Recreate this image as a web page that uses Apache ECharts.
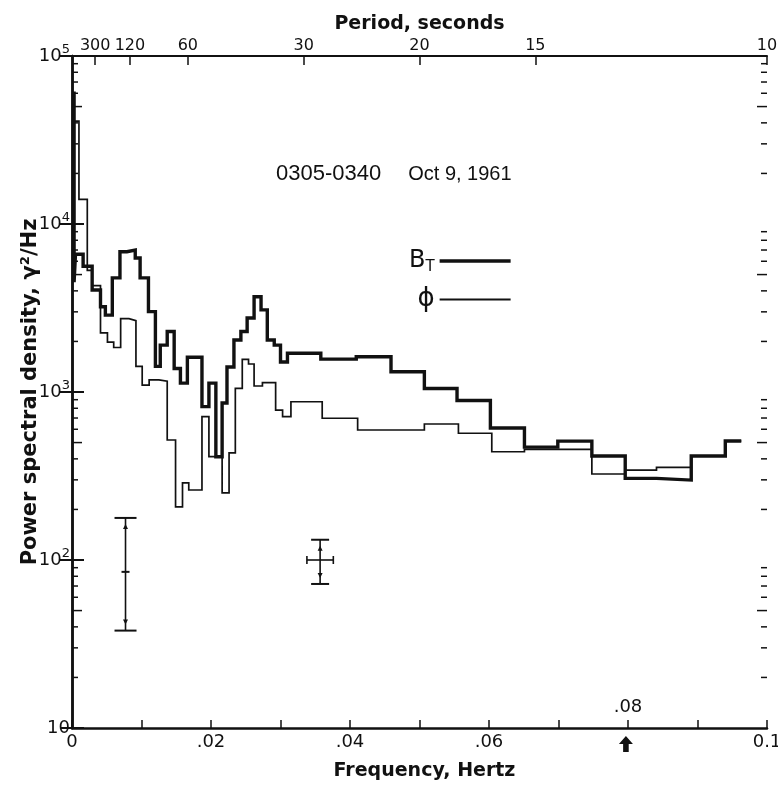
<!DOCTYPE html>
<html>
<head>
<meta charset="utf-8">
<script src="https://cdn.jsdelivr.net/npm/echarts@6/dist/echarts.min.js"></script>
<style>
  html, body { margin: 0; padding: 0; background: #fff; }
  #chart { width: 778px; height: 785px; }
</style>
</head>
<body>
<div id="chart"></div>
<script>
// Power spectra, 0305-0340 UT, Oct 9 1961.
// Each series: frequency (Hz) where a step starts, and the density held until the next step.
const btFreq = [0, 0.0003, 0.0005, 0.0016, 0.0029, 0.0041, 0.0048, 0.0058, 0.0069, 0.0079, 0.0091,
  0.0098, 0.0110, 0.0120, 0.0127, 0.0137, 0.0147, 0.0156, 0.0166, 0.0187, 0.0197, 0.0207, 0.0216,
  0.0223, 0.0233, 0.0243, 0.0252, 0.0262, 0.0272, 0.0281, 0.0291, 0.0300, 0.0310, 0.0358, 0.0409,
  0.0459, 0.0507, 0.0554, 0.0602, 0.0651, 0.0699, 0.0748, 0.0796, 0.0841, 0.0891, 0.0940];
const btVal = [60000, 4500, 6600, 5600, 4050, 3220, 2870, 4780, 6840, 7000, 6280,
  4780, 3010, 1420, 1900, 2290, 1380, 1130, 1610, 818, 1130, 412, 860,
  1410, 2040, 2290, 2760, 3690, 3080, 2040, 1900, 1510, 1700, 1570, 1620,
  1320, 1050, 890, 610, 470, 510, 416, 306, 299, 416, 511];
const btEnd = 0.0963;

const phFreq = [0, 0.0010, 0.0022, 0.0029, 0.0041, 0.0051, 0.0060, 0.0070, 0.0082, 0.0092, 0.0101,
  0.0111, 0.0125, 0.0137, 0.0149, 0.0159, 0.0168, 0.0187, 0.0197, 0.0216, 0.0226, 0.0235, 0.0245,
  0.0254, 0.0262, 0.0274, 0.0293, 0.0303, 0.0315, 0.0360, 0.0411, 0.0507, 0.0556, 0.0604, 0.0651,
  0.0699, 0.0748, 0.0796, 0.0841, 0.0891, 0.0940];
const phVal = [41000, 14000, 5300, 4300, 2250, 1980, 1840, 2730, 2660, 1420, 1100,
  1180, 1160, 518, 207, 288, 261, 713, 412, 251, 434, 1052, 1566,
  1468, 1086, 1136, 781, 713, 875, 698, 594, 645, 568, 441, 456,
  456, 325, 343, 356, 416, 511];
const phEnd = 0.0963;

// Error bars: [frequency, centre, low, high, horizontal half-width in Hz]
const errorBars = [
  [0.0077, 85, 38, 178, 0],
  [0.0357, 100, 72, 132, 0.0019]
];

// Axis marks
const periodTicks = [300, 120, 60, 30, 20, 15, 10];      // seconds, top scale
const freqLabelValues = [0, 0.02, 0.04, 0.06, 0.1];
const freqLabelText = ['0', '.02', '.04', '.06', '0.1'];
const insideFreqLabel = 0.08;
const arrowFreq = 0.0797;
const decades = [1, 2, 3, 4];                           // 10^1 .. 10^4 get minor ticks
const minorMultipliers = [2, 3, 4, 5, 6, 7, 8, 9];

const INK = '#111';
const FONT = 'DejaVu Sans';

function stepData(freq, val, end) {
  const d = freq.map((f, i) => [f, val[i]]);
  d.push([end, val[val.length - 1]]);
  return d;
}

const minorTickData = [];
decades.forEach(e => minorMultipliers.forEach(m => minorTickData.push([m * Math.pow(10, e), m === 5 ? 1 : 0])));

const chart = echarts.init(document.getElementById('chart'), null, { renderer: 'canvas' });

chart.setOption({
  animation: false,
  backgroundColor: '#fff',
  title: {
    text: '{a|0305-0340}{g|}{b|Oct 9, 1961}',
    left: 271, top: 158,
    textStyle: {
      fontFamily: 'Liberation Sans', fontSize: 22, fontWeight: 'normal', color: INK,
      rich: {
        a: { fontFamily: 'Liberation Sans', fontSize: 22, color: INK },
        b: { fontFamily: 'Liberation Sans', fontSize: 20, color: INK },
        g: { width: 27 }
      }
    }
  },
  legend: {
    orient: 'vertical',
    left: 409, top: 249,
    padding: 0,
    align: 'right',
    itemWidth: 71, itemHeight: 14, itemGap: 12,
    symbolKeepAspect: true,
    data: [
      { name: 'BT', icon: 'path://M0,0H68V3.4H0Z' },
      { name: 'phi', icon: 'path://M0,0H68V1.7H0Z' }
    ],
    formatter: n => n === 'BT' ? '{b|B}{t|T}' : '{p|ϕ}',
    textStyle: {
      color: INK, fontFamily: FONT,
      rich: {
        b: { fontSize: 24, color: INK, fontFamily: FONT },
        t: { fontSize: 15, color: INK, fontFamily: FONT, padding: [12, 0, 0, 0] },
        p: { fontSize: 26, color: INK, fontFamily: FONT }
      }
    }
  },
  grid: { left: 72, right: 11, top: 56, bottom: 57, outerBoundsMode: 'none', containLabel: false },
  xAxis: [
    {
      type: 'value', position: 'bottom', min: 0, max: 0.1, interval: 0.01,
      name: 'Frequency, Hertz', nameLocation: 'middle', nameGap: 34,
      nameTextStyle: { fontFamily: FONT, fontSize: 19, fontWeight: 'bold', color: INK, padding: [0, 0, 0, 10] },
      axisLine: { lineStyle: { color: INK, width: 2.5 } },
      axisTick: { inside: true, length: 8, lineStyle: { color: INK, width: 1.5 } },
      axisLabel: {
        color: INK, fontFamily: FONT, fontSize: 18, margin: 5,
        formatter: v => {
          const i = freqLabelValues.findIndex(x => Math.abs(x - v) < 1e-9);
          return i < 0 ? '' : freqLabelText[i];
        }
      },
      splitLine: { show: false }
    },
    {
      type: 'value', position: 'top', min: 0, max: 0.1,
      name: 'Period, seconds', nameLocation: 'middle', nameGap: 22, nameMoveOverlap: false,
      nameTextStyle: { fontFamily: FONT, fontSize: 19, fontWeight: 'bold', color: INK },
      axisLine: { lineStyle: { color: INK, width: 2 } },
      axisTick: { inside: true, length: 9, customValues: periodTicks.map(p => 1 / p), lineStyle: { color: INK, width: 1.5 } },
      axisLabel: {
        color: INK, fontFamily: FONT, fontSize: 16, margin: 2,
        customValues: periodTicks.map(p => 1 / p),
        formatter: v => String(Math.round(1 / v))
      },
      splitLine: { show: false }
    },
    {
      type: 'value', position: 'bottom', min: 0, max: 0.1,
      axisLine: { show: false },
      axisTick: { show: false },
      axisLabel: {
        inside: true, color: INK, fontFamily: FONT, fontSize: 18, margin: 12,
        customValues: [insideFreqLabel],
        formatter: () => '.08'
      },
      splitLine: { show: false }
    }
  ],
  yAxis: [
    {
      type: 'log', logBase: 10, min: 10, max: 100000, position: 'left',
      name: 'Power spectral density, γ²/Hz', nameLocation: 'middle', nameGap: 31, nameRotate: 90,
      nameMoveOverlap: false,
      nameTextStyle: { fontFamily: FONT, fontSize: 21, fontWeight: 'bold', color: INK },
      axisLine: { lineStyle: { color: INK, width: 2.5 } },
      axisTick: { inside: true, length: 12, lineStyle: { color: INK, width: 2 } },
      axisLabel: {
        color: INK, fontFamily: FONT, fontSize: 18, margin: 2,
        formatter: v => {
          const e = Math.round(Math.log10(v));
          return e === 1 ? '10' : '10{s|' + e + '}';
        },
        rich: { s: { fontSize: 13, color: INK, fontFamily: FONT, padding: [0, 0, 12, 0] } }
      },
      splitLine: { show: false },
      minorTick: { show: false }
    },
    {
      type: 'log', logBase: 10, min: 10, max: 100000, position: 'right',
      axisLine: { lineStyle: { color: INK, width: 2.5 } },
      axisTick: { inside: true, length: 12, lineStyle: { color: INK, width: 2 } },
      axisLabel: { show: false },
      splitLine: { show: false }
    }
  ],
  series: [
    {
      name: 'BT', type: 'line', step: 'end', symbol: 'none',
      data: stepData(btFreq, btVal, btEnd),
      lineStyle: { color: INK, width: 3.4, join: 'miter' },
      itemStyle: { color: INK },
      z: 4,
      markPoint: {
        symbol: 'path://M5,0 L10,6 L7,6 L7,12 L3,12 L3,6 L0,6 Z',
        symbolSize: [14, 16],
        symbolOffset: [0, 16],
        itemStyle: { color: INK },
        label: { show: false },
        data: [{ coord: [arrowFreq, 10] }]
      }
    },
    {
      name: 'phi', type: 'line', step: 'end', symbol: 'none',
      data: stepData(phFreq, phVal, phEnd),
      lineStyle: { color: INK, width: 1.7, join: 'miter' },
      itemStyle: { color: INK },
      z: 3
    },
    {
      // minor ticks (2..9 per decade) on the left and right frames
      type: 'custom', silent: true, clip: false,
      data: minorTickData,
      renderItem: (params, api) => {
        const v = api.value(0);
        const len = api.value(1) ? 10 : 6;
        const pl = api.coord([0, v]);
        const pr = api.coord([0.1, v]);
        const st = { stroke: INK, lineWidth: 1.5 };
        return {
          type: 'group', children: [
            { type: 'line', shape: { x1: pl[0], y1: pl[1], x2: pl[0] + len, y2: pl[1] }, style: st },
            { type: 'line', shape: { x1: pr[0], y1: pr[1], x2: pr[0] - len, y2: pr[1] }, style: st }
          ]
        };
      }
    },
    {
      // statistical error bars
      type: 'custom', silent: true,
      data: errorBars,
      renderItem: (params, api) => {
        const f = api.value(0), c = api.value(1), lo = api.value(2), hi = api.value(3), hw = api.value(4);
        const pc = api.coord([f, c]), pl = api.coord([f, lo]), ph = api.coord([f, hi]);
        const st = { stroke: INK, lineWidth: 1.6 };
        const cap = hw > 0 ? 9 : 11;
        const children = [
          { type: 'line', shape: { x1: pl[0], y1: pl[1], x2: ph[0], y2: ph[1] }, style: st },
          { type: 'line', shape: { x1: pl[0] - cap, y1: pl[1], x2: pl[0] + cap, y2: pl[1] }, style: { stroke: INK, lineWidth: 2 } },
          { type: 'line', shape: { x1: ph[0] - cap, y1: ph[1], x2: ph[0] + cap, y2: ph[1] }, style: { stroke: INK, lineWidth: 2 } },
          { type: 'polygon', shape: { points: [[ph[0] - 2.5, ph[1] + 11], [ph[0] + 2.5, ph[1] + 11], [ph[0], ph[1] + 6]] }, style: { fill: INK } },
          { type: 'polygon', shape: { points: [[pl[0] - 2.5, pl[1] - 11], [pl[0] + 2.5, pl[1] - 11], [pl[0], pl[1] - 6]] }, style: { fill: INK } }
        ];
        if (hw > 0) {
          const a = api.coord([f - hw, c]), b = api.coord([f + hw, c]);
          children.push({ type: 'line', shape: { x1: a[0], y1: a[1], x2: b[0], y2: b[1] }, style: st });
          children.push({ type: 'line', shape: { x1: a[0], y1: a[1] - 4, x2: a[0], y2: a[1] + 4 }, style: st });
          children.push({ type: 'line', shape: { x1: b[0], y1: b[1] - 4, x2: b[0], y2: b[1] + 4 }, style: st });
        } else {
          children.push({ type: 'line', shape: { x1: pc[0] - 4, y1: pc[1], x2: pc[0] + 4, y2: pc[1] }, style: { stroke: INK, lineWidth: 2 } });
        }
        return { type: 'group', children };
      }
    }
  ]
});
</script>
</body>
</html>
